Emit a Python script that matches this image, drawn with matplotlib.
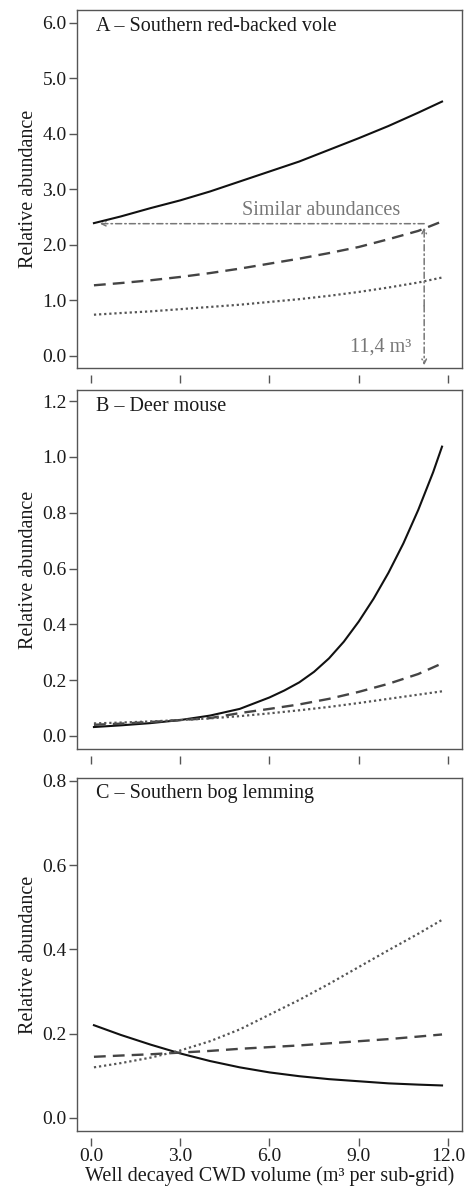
import numpy as np
import matplotlib
matplotlib.use("Agg")
import matplotlib.pyplot as plt

plt.rcParams['font.family'] = ['Liberation Serif', 'DejaVu Serif']

# x positions (m3 per sub-grid)
cwd = [0.1, 1, 2, 3, 4, 5, 6, 7, 8, 9, 10, 11, 11.8]
# the steep deer mouse curve was read at a finer step
cwd_fine = [0.1, 1, 2, 3, 4, 5, 6, 6.5, 7, 7.5, 8, 8.5, 9, 9.5, 10, 10.5, 11, 11.5, 11.8]

# A - Southern red-backed vole
vole_solid = [2.39, 2.51, 2.66, 2.80, 2.96, 3.14, 3.32, 3.50, 3.71, 3.92, 4.14, 4.38, 4.58]
vole_dash = [1.27, 1.31, 1.36, 1.42, 1.49, 1.57, 1.66, 1.75, 1.85, 1.96, 2.10, 2.25, 2.42]
vole_dot = [0.74, 0.77, 0.80, 0.84, 0.88, 0.92, 0.97, 1.02, 1.08, 1.15, 1.23, 1.32, 1.41]

# B - Deer mouse
mouse_solid = [0.032, 0.038, 0.046, 0.057, 0.073, 0.097, 0.138, 0.163, 0.192, 0.230, 0.278,
               0.338, 0.410, 0.492, 0.585, 0.690, 0.810, 0.945, 1.037]
mouse_dash = [0.040, 0.044, 0.050, 0.057, 0.064, 0.082, 0.097, 0.113, 0.133, 0.158, 0.187, 0.222, 0.260]
mouse_dot = [0.045, 0.048, 0.052, 0.057, 0.063, 0.071, 0.081, 0.092, 0.104, 0.118, 0.133, 0.148, 0.160]

# C - Southern bog lemming
lem_solid = [0.220, 0.197, 0.174, 0.153, 0.135, 0.120, 0.108, 0.099, 0.092, 0.087, 0.082, 0.079, 0.077]
lem_dash = [0.145, 0.148, 0.151, 0.155, 0.159, 0.164, 0.168, 0.172, 0.177, 0.182, 0.187, 0.193, 0.198]
lem_dot = [0.120, 0.130, 0.143, 0.160, 0.182, 0.210, 0.245, 0.280, 0.318, 0.358, 0.398, 0.437, 0.470]

panels = [
    ("A \u2013 Southern red-backed vole", cwd, vole_solid, vole_dash, vole_dot,
     [0, 1, 2, 3, 4, 5, 6], (-0.22, 6.23)),
    ("B \u2013 Deer mouse", cwd_fine, mouse_solid, mouse_dash, mouse_dot,
     [0, 0.2, 0.4, 0.6, 0.8, 1.0, 1.2], (-0.047, 1.24)),
    ("C \u2013 Southern bog lemming", cwd, lem_solid, lem_dash, lem_dot,
     [0, 0.2, 0.4, 0.6, 0.8], (-0.031, 0.807)),
]

# similar abundance annotation in panel A
similar_y = 2.38
similar_x = 11.2

xticks = [0, 3, 6, 9, 12]

fig = plt.figure(figsize=(4.68, 11.89), dpi=100)
boxes = [[0.1645, 0.6905, 0.8226, 0.3011],
         [0.1645, 0.3700, 0.8226, 0.3020],
         [0.1645, 0.0488, 0.8226, 0.2970]]

txt = '#1a1a1a'
frame = '#555555'

for i, (title, xs, s, d, o, yt, yl) in enumerate(panels):
    ax = fig.add_axes(boxes[i])
    ax.plot(xs, s, color='#111111', lw=1.5, ls='-')
    ax.plot(cwd, d, color='#444444', lw=1.7, ls=(0, (5, 3)))
    ax.plot(cwd, o, color='#555555', lw=1.6, ls=(0, (1, 1.3)))
    ax.set_xlim(-0.47, 12.47)
    ax.set_ylim(*yl)
    ax.set_yticks(yt)
    ax.set_yticklabels(['%.1f' % v for v in yt])
    ax.set_xticks(xticks)
    if i == 2:
        ax.set_xticklabels(['%.1f' % v for v in xticks])
        ax.set_xlabel('Well decayed CWD volume (m\u00b3 per sub-grid)', fontsize=14.5,
                      color=txt, labelpad=1)
    else:
        ax.set_xticklabels([])
    ax.set_ylabel('Relative abundance', fontsize=14.5, color=txt, labelpad=3)
    ax.tick_params(axis='both', direction='out', length=6, width=1, color=frame,
                   labelsize=14, labelcolor=txt, pad=1.5)
    for sp in ['top', 'left', 'right']:
        ax.spines[sp].set_color(frame)
        ax.spines[sp].set_linewidth(1)
    ax.spines['bottom'].set_position(('outward', 5))
    ax.spines['bottom'].set_visible(False)
    ax.plot([0, 1], [0, 0], transform=ax.transAxes, color=frame, lw=1, clip_on=False)
    ax.text(0.05, 0.955, title, transform=ax.transAxes, fontsize=14.5, color=txt,
            va='center', ha='left')
    if i == 0:
        gray = '#777777'
        dd = (0, (4, 2, 1, 2))
        ax.annotate('', xy=(0.3, similar_y), xytext=(similar_x, similar_y),
                    arrowprops=dict(arrowstyle='->', color=gray, lw=1.1, ls=dd,
                                    shrinkA=0, shrinkB=0, mutation_scale=8))
        ax.annotate('', xy=(similar_x, 2.31), xytext=(similar_x, 0.9),
                    arrowprops=dict(arrowstyle='->', color=gray, lw=1.1, ls=dd,
                                    shrinkA=0, shrinkB=0, mutation_scale=8))
        ax.annotate('', xy=(similar_x, -0.17), xytext=(similar_x, 0.9),
                    arrowprops=dict(arrowstyle='->', color=gray, lw=1.1, ls=dd,
                                    shrinkA=0, shrinkB=0, mutation_scale=8))
        ax.text(7.75, 2.62, 'Similar abundances', color=gray, fontsize=14.5,
                ha='center', va='center')
        ax.text(9.75, 0.15, '11,4 m\u00b3', color=gray, fontsize=14.5, ha='center', va='center')

fig.savefig('out.png', dpi=100)
